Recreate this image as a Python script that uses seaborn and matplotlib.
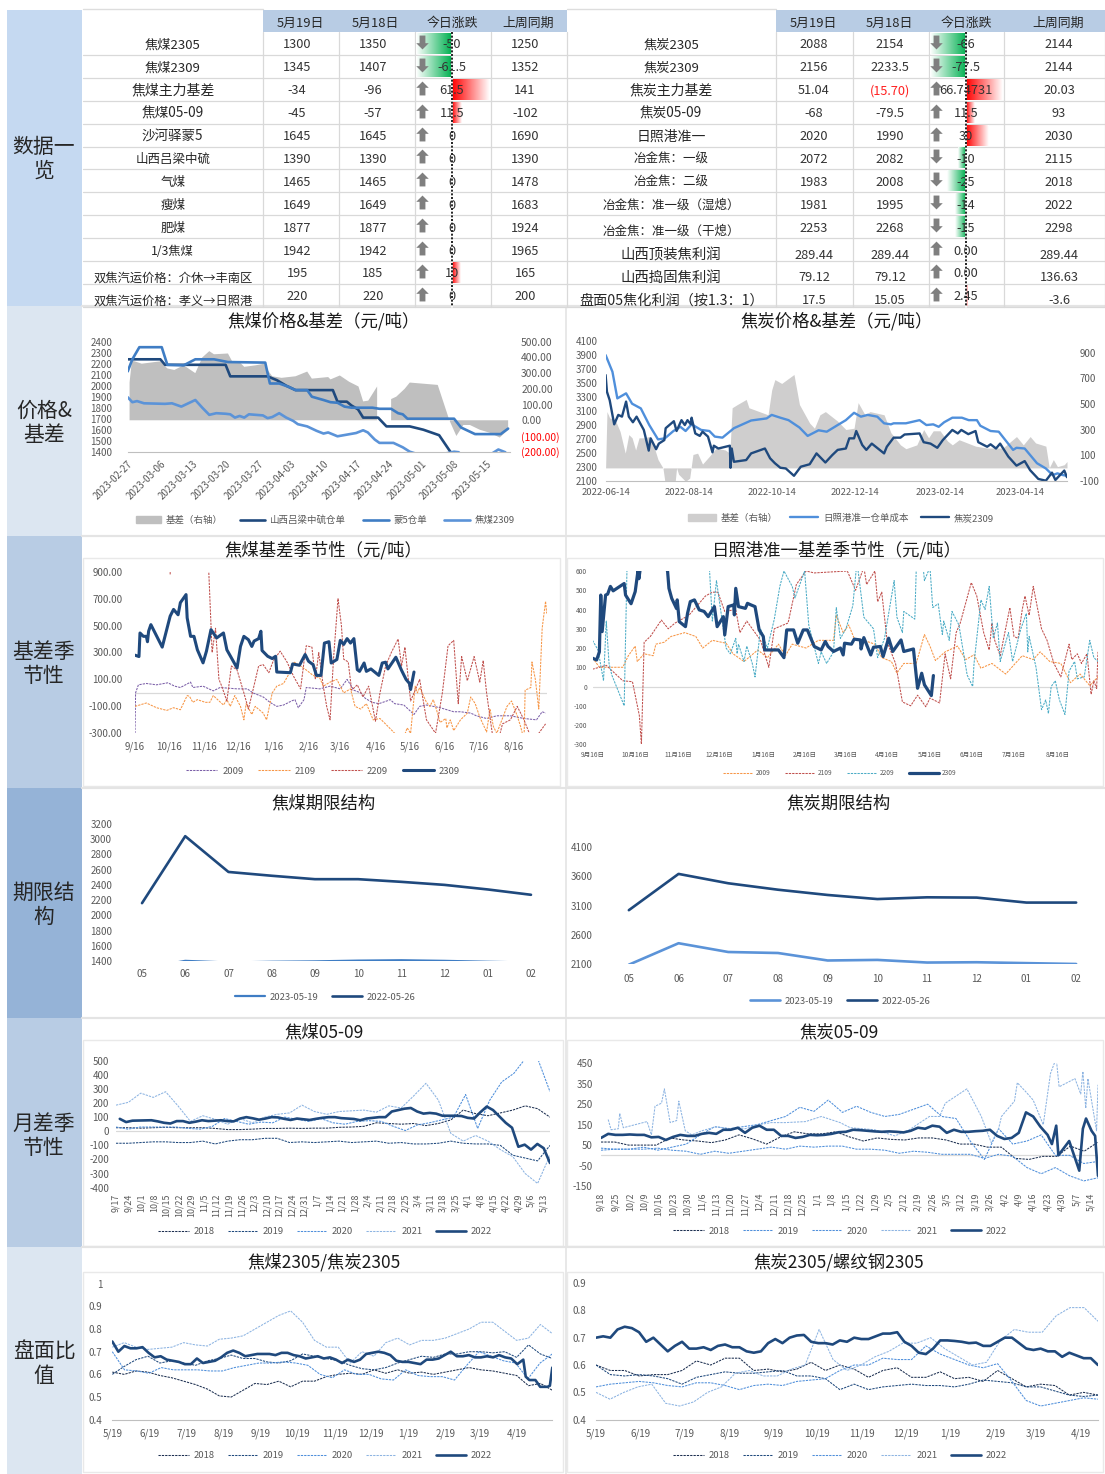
import numpy as np
import matplotlib
matplotlib.use("Agg")
import matplotlib.pyplot as plt
from matplotlib.colors import LinearSegmentedColormap
from matplotlib.patches import Rectangle, Patch
from matplotlib.path import Path
import seaborn as sns

sns.set_theme(style="white")
plt.rcParams['font.family'] = ['Noto Sans CJK SC', 'DejaVu Sans']
plt.rcParams['axes.unicode_minus'] = False

# ---------------- table data
HEAD_L = ['5月19日', '5月18日', '今日涨跌', '上周同期']
NAMES_L = ['焦煤2305', '焦煤2309', '焦煤主力基差', '焦煤05-09', '沙河驿蒙5', '山西吕梁中硫', '气煤', '瘦煤', '肥煤', '1/3焦煤',
           '双焦汽运价格：介休→丰南区', '双焦汽运价格：孝义→日照港']
D19_L = ['1300', '1345', '-34', '-45', '1645', '1390', '1465', '1649', '1877', '1942', '195', '220']
D18_L = ['1350', '1407', '-96', '-57', '1645', '1390', '1465', '1649', '1877', '1942', '185', '220']
CHG_L = [-50, -61.5, 61.5, 11.5, 0, 0, 0, 0, 0, 0, 10, 0]
CHGT_L = ['-50', '-61.5', '61.5', '11.5', '0', '0', '0', '0', '0', '0', '10', '0']
WK_L = ['1250', '1352', '141', '-102', '1690', '1390', '1478', '1683', '1924', '1965', '165', '200']

NAMES_R = ['焦炭2305', '焦炭2309', '焦炭主力基差', '焦炭05-09', '日照港准一', '冶金焦：一级', '冶金焦：二级', '冶金焦：准一级（湿熄）',
           '冶金焦：准一级（干熄）', '山西顶装焦利润', '山西捣固焦利润', '盘面05焦化利润（按1.3：1）']
D19_R = ['2088', '2156', '51.04', '-68', '2020', '2072', '1983', '1981', '2253', '289.44', '79.12', '17.5']
D18_R = ['2154', '2233.5', '(15.70)', '-79.5', '1990', '2082', '2008', '1995', '2268', '289.44', '79.12', '15.05']
CHG_R = [-66, -77.5, 66.74731, 11.5, 30, -10, -25, -14, -15, 0, 0, 2.45]
CHGT_R = ['-66', '-77.5', '66.74731', '11.5', '30', '-10', '-25', '-14', '-15', '0.00', '0.00', '2.45']
WK_R = ['2144', '2144', '20.03', '93', '2030', '2115', '2018', '2022', '2298', '289.44', '136.63', '-3.6']

BANDS = ['数据一\n览', '价格&\n基差', '基差季\n节性', '期限结\n构', '月差季\n节性', '盘面比\n值']

# ---------------- chart 1
C1_TICKS = ['2023-02-27', '2023-03-06', '2023-03-13', '2023-03-20', '2023-03-27', '2023-04-03', '2023-04-10', '2023-04-17',
            '2023-04-24', '2023-05-01', '2023-05-08', '2023-05-15']
C1_RIGHT = ['500.00', '400.00', '300.00', '200.00', '100.00', '0.00', '(100.00)', '(200.00)']
C1_LL_X = [0, 7, 8, 21, 22, 30, 32, 34, 36, 44, 45, 47, 48, 49.4, 50.5, 53.7, 55.5, 60.5, 63.4, 66.8, 69.2, 72, 81]
C1_LL_Y = [2240, 2240, 2190, 2190, 2085, 2085, 2050, 2000, 1960, 1960, 1855, 1855, 1820, 1785, 1710, 1710, 1630, 1630, 1600, 1550, 1400, 1330, 1300]
C1_M5_X = [0, 1, 2.5, 7.3, 8.5, 12, 14.5, 18.5, 21.5, 29.5, 30.5, 32.5, 34.5, 36, 38.5, 39.5, 42, 43.5, 45, 46.5, 48, 52.5, 54, 56.5, 58, 59, 60, 70, 71.5, 73, 74.5, 80, 81.6]
C1_M5_Y = [2130, 2240, 2350, 2350, 2190, 2185, 2240, 2240, 2215, 2210, 2020, 2020, 1990, 1960, 1960, 1900, 1870, 1850, 1845, 1810, 1800, 1800, 1790, 1790, 1750, 1740, 1700, 1700, 1620, 1590, 1560, 1560, 1610]
C1_JM_X = [0, 1, 2, 3.5, 8, 9.5, 11.5, 14.5, 16, 17.5, 19, 21, 22, 23, 24, 25, 26, 29, 30, 31, 32.5, 34, 35.5, 36.5, 38.5, 40.5, 42, 43, 45, 47, 49, 50.5, 51.5, 53, 54, 57, 59, 60.5, 62, 66, 69, 70, 71, 72, 75, 78, 79.5, 81]
C1_JM_Y = [1895, 1850, 1860, 1840, 1835, 1840, 1810, 1870, 1800, 1735, 1750, 1745, 1740, 1710, 1725, 1710, 1740, 1730, 1705, 1715, 1750, 1710, 1680, 1650, 1630, 1590, 1565, 1575, 1540, 1555, 1570, 1595, 1575, 1510, 1480, 1480, 1440, 1400, 1380, 1370, 1390, 1400, 1395, 1340, 1310, 1380, 1420, 1395]
C1_B_X = [0.4, 0.9, 1.5, 3, 7, 8.5, 10, 12, 14.5, 16, 17.5, 18.5, 21.5, 22.5, 24, 25, 27.5, 29.3, 30, 31, 33, 36, 38.5, 39.5, 43, 43.5, 45.5, 47.5, 49.5, 50.5, 51.6, 53.5, 55, 56.5, 57.6, 59.4, 60.5, 66.5, 69, 70.5, 72, 73.4, 75.5, 77.7, 79.8, 81.6]
C1_B_Y = [240, 380, 375, 360, 375, 330, 320, 350, 300, 400, 440, 420, 425, 370, 370, 340, 350, 360, 320, 280, 270, 280, 310, 265, 275, 260, 285, 245, 215, 120, 125, 215, np.nan, 135, 150, 200, 240, 225, 0, -100, -30, -30, -60, -80, -110, -60]

# ---------------- chart 2
C2_TICKS = ['2022-06-14', '2022-08-14', '2022-10-14', '2022-12-14', '2023-02-14', '2023-04-14']
C2_RZ_X = [0, 5, 8.6, 15, 19.4, 25.8, 32, 38.4, 43.4, 49.7, 54.8, 58.6, 63, 70, 76, 80, 85.6, 94, 106.6, 118, 121.7, 128, 134, 142, 148, 156, 162, 170, 176, 182, 187, 192, 199, 204, 209, 211, 220, 230, 235, 240, 244, 248, 254, 261, 266, 272, 274.5, 282, 288, 298.5, 301, 307, 310, 316, 322.5, 327.5, 331, 335, 338]
C2_RZ_Y = [3895, 3657, 3276, 3348, 3200, 3133, 2895, 2690, 2705, 2810, 2870, 2810, 2905, 2825, 2810, 2730, 2715, 2850, 2960, 2990, 3040, 3000, 2965, 2860, 2740, 2820, 2800, 2895, 2965, 3070, 3015, 3040, 3015, 2920, 2905, 2920, 2920, 2965, 2895, 2905, 2870, 2935, 3000, 3000, 2965, 2965, 2885, 2810, 2800, 2540, 2570, 2560, 2490, 2350, 2275, 2180, 2205, 2180, 2170]
C2_JT_X = [0, 1, 3, 6.3, 9.3, 12, 15, 17, 20, 22.7, 28, 31.6, 33, 37, 39, 43, 44, 50, 52, 55.6, 58, 60, 62.4, 63, 65.7, 69, 71, 75, 78.3, 79.3, 82.6, 91, 91.5, 92.4, 94, 103, 106.6, 116.7, 120.5, 124, 128, 132, 138, 143, 149.5, 154.5, 161, 166, 170, 176, 178.5, 182, 183.6, 188, 191, 195, 204, 206, 211, 216, 219, 230, 233, 238, 243, 247, 254, 258, 260.6, 265.7, 271, 273, 279.5, 282, 286, 289, 295, 301, 307, 311, 317, 322.5, 327, 329.5, 336, 338]
C2_JT_Y = [3610, 3370, 3250, 2905, 3040, 3015, 3230, 3015, 2935, 3015, 2825, 2530, 2705, 2550, 2630, 2680, 2850, 2950, 2810, 2965, 2895, 2965, 2905, 3000, 2775, 2740, 2800, 2730, 2505, 2600, 2560, 2600, 2285, 2560, 2370, 2395, 2490, 2560, 2420, 2350, 2285, 2275, 2170, 2300, 2335, 2490, 2360, 2465, 2540, 2560, 2705, 2705, 2810, 2610, 2540, 2630, 2490, 2585, 2715, 2715, 2760, 2775, 2650, 2630, 2570, 2680, 2825, 2775, 2825, 2765, 2810, 2650, 2585, 2620, 2560, 2630, 2445, 2315, 2380, 2250, 2125, 2100, 2215, 2110, 2245, 2150]
C2_B_X = [0, 1, 3, 6.8, 8, 10.6, 14.4, 17, 19.4, 22, 24.5, 28, 32, 34.6, 38.4, 42, 43.4, 51, 52, 53.5, 58.6, 61.6, 64, 67.4, 71, 76, 81, 87.6, 91, 92.7, 96.5, 103, 105, 119, 121.7, 124, 129, 138, 142, 149.5, 153, 157, 161, 170, 176, 182, 185, 190, 193.7, 204, 209, 216, 220, 228, 233, 236.6, 240, 245, 250.5, 254, 259, 271, 279.5, 291, 301, 306, 311, 315, 322.5, 325, 328, 331, 336, 338]
C2_B_Y = [0, 440, 390, 380, 350, 285, 115, 260, 235, 140, 235, 235, 245, 195, 65, 0, -105, -105, 0, -50, -105, -80, 105, 115, 30, 90, 155, 140, 115, 470, 495, 535, 470, 415, 610, 690, 660, 730, 495, 350, 310, 415, 440, 365, 300, 310, 510, 415, 440, 415, 275, 180, 150, 180, 300, 235, 290, 290, 210, 180, 220, 170, 155, 155, 245, 180, 245, 195, 170, 0, 65, 10, 25, 50]

# ---------------- chart 3
C3_TICKS = ['9/16', '10/16', '11/16', '12/16', '1/16', '2/16', '3/16', '4/16', '5/16', '6/16', '7/16', '8/16']
C3_09_X = [0, 0.5, 3, 10, 19, 29, 35, 40, 49, 51, 60, 69, 75, 90, 99, 104, 113, 119, 125, 131, 138, 141, 144, 149, 151, 163, 172, 181, 187, 193, 199, 203, 209, 215, 222, 225, 229, 237, 246, 251, 257, 269, 281, 287, 296, 301, 310, 319, 331, 343, 354, 359, 362]
C3_09_Y = [-300, 0, 60, 70, 60, 75, 50, 40, 80, 40, 50, 15, 40, 30, 30, 0, -30, -70, -100, -90, -60, -50, -110, -50, 40, 30, 50, 30, 100, 20, 0, -40, -70, -80, -60, -50, -80, -90, -160, -100, -90, -110, -140, -140, -150, -170, -190, -170, -170, -190, -200, -140, -150]
C3_21_X = [0, 10, 19, 28, 34, 40, 46, 48, 51, 55, 62, 66, 69, 78, 81, 84, 88, 93, 96, 98, 103, 106, 113, 116, 121, 125, 131, 135, 140, 146, 151, 157, 163, 166, 172, 178, 184, 190, 194, 199, 204, 210, 216, 222, 229, 234, 240, 243, 247, 249, 251, 257, 260, 263, 266, 269, 274, 275, 278, 281, 287, 293, 296, 300, 304, 310, 313, 316, 319, 328, 332, 337, 340, 343, 344, 349, 350, 353, 356, 359, 362, 363]
C3_21_Y = [-100, -75, -110, -130, -110, -125, -20, -25, -70, -50, -70, -70, -20, -90, -50, -100, -20, -100, -200, -80, -160, -100, -150, -200, 0, 50, 70, 130, 230, 200, 170, 130, 110, 50, 80, 100, 0, 30, -100, -120, -80, -200, -190, -240, -300, -400, -260, -300, 50, 0, 40, -70, -100, -50, -130, -220, -190, -260, -200, -280, -200, -150, -30, -80, -180, -290, -120, -250, -300, -100, -60, -170, -250, -350, 20, 40, 230, 100, -120, 480, 680, 590]
C3_22_X = [31, 32, 63, 65, 68, 71, 74, 76, 81, 85, 90, 96, 100, 104, 109, 113, 118, 122, 128, 134, 140, 146, 149, 151, 156, 159, 162, 166, 169, 172, 175, 179, 182, 184, 188, 191, 196, 201, 206, 212, 216, 221, 226, 232, 235, 238, 243, 246, 251, 257, 265, 271, 276, 281, 285, 288, 293, 299, 304, 307, 310, 315, 319, 324, 331, 337, 343, 350, 356, 362]
C3_22_Y = [880, 1300, 1300, 910, 300, 480, 100, 60, -60, 200, 170, 0, -120, 20, 200, 210, 150, 240, 310, 230, 120, 30, 230, 350, 340, 100, 300, 50, -100, -200, 250, 700, 500, 250, 230, 20, 60, -30, 50, -210, 0, 200, 300, 400, 200, 340, -60, 0, 100, -200, -300, 0, 350, 390, -80, 270, 90, 270, 80, 240, 0, -300, -400, -230, -200, -100, -200, -350, -300, -230]
C3_23_X = [0, 3.5, 4.4, 7.4, 10, 11, 12, 14, 24, 31, 34, 38, 40, 45, 46, 49, 52, 55, 60, 63, 67, 72, 78, 81, 90, 93, 96, 100, 103, 105, 109, 111, 112, 117, 121, 124, 125, 137, 139, 145, 150, 153, 157, 160, 164, 167, 171, 173, 178, 181, 184, 187, 190, 193, 196, 198, 202, 204, 208, 215, 218, 221, 223, 230, 235, 239, 242, 243, 246]
C3_23_Y = [280, 270, 445, 420, 420, 380, 458, 507, 340, 570, 620, 580, 670, 730, 557, 420, 420, 320, 223, 310, 470, 408, 445, 320, 185, 345, 420, 395, 345, 385, 403, 458, 315, 272, 255, 272, 155, 150, 215, 205, 285, 235, 210, 130, 130, 370, 380, 222, 248, 390, 360, 403, 370, 403, 173, 160, 222, 160, 178, 130, 222, 228, 178, 265, 168, 100, 70, 25, 155]

# ---------------- chart 4
C4_TICKS = ['9月16日', '10月16日', '11月16日', '12月16日', '1月16日', '2月16日', '3月16日', '4月16日', '5月16日', '6月16日', '7月16日', '8月16日']
C4_09_X = [0, 5, 12, 22, 26, 31, 32.5, 37.5, 44, 46, 52, 57, 67, 75, 80, 87, 97, 102, 110, 120, 127, 135, 140, 145, 155, 164, 175, 177, 182, 186, 190, 197, 205, 210, 217, 221, 226, 235, 241, 245, 249, 256, 265, 271, 277, 282, 290, 300, 312, 320, 325, 332, 340, 347, 354, 361, 367]
C4_09_Y = [150, 100, 100, 100, 160, 210, 130, 170, 160, 220, 230, 260, 280, 260, 200, 240, 225, 170, 130, 190, 150, 220, 160, 220, 200, 240, 240, 370, 280, 320, 250, 240, 220, 150, 130, 70, 120, 120, 270, 210, 135, 180, 210, 140, 165, 95, 120, 65, 160, 140, 180, 130, 120, 20, 65, 5, 50]
C4_21_X = [0, 10, 22, 29, 34, 35.5, 37.5, 42, 50, 55, 60, 70, 82, 87, 91, 96, 104, 107, 112, 122, 128, 132, 142, 148, 155, 161, 185, 191, 197, 199, 205, 207, 210, 214, 220, 225, 231, 236, 242, 245, 252, 256, 260, 264, 267, 275, 279, 284, 288, 290, 292, 296, 303, 306, 309, 312, 314, 317, 320, 326, 330, 335, 340, 346, 348, 352, 355, 359, 362, 364, 366, 367]
C4_21_Y = [90, 110, 30, 25, -150, -300, 230, 260, 345, 300, 330, 370, 470, 490, 490, 390, 400, 280, 340, 240, 100, 300, 330, 530, 600, 590, 600, 500, 620, 530, 600, 440, 490, 230, 120, -80, -100, -45, -105, -60, -85, 170, 40, 280, 330, 540, 470, 280, 190, 330, 240, 160, 410, 260, 250, 400, 470, 370, 520, 300, 240, 120, 50, 220, 140, 170, 120, 170, -40, 30, -10, 180]
C4_22_X = [0, 4, 8, 10, 12, 14, 23, 25, 26, 84, 85, 87, 90, 97, 100, 104, 105, 106, 110, 112, 116, 118, 122, 127, 132, 136, 139, 145, 147, 154, 157, 164, 166, 170, 175, 177, 180, 184, 189, 192, 197, 204, 207, 212, 219, 221, 225, 226, 234, 235, 239, 241, 245, 247, 251, 254, 255, 259, 261, 266, 272, 276, 277, 282, 285, 288, 291, 294, 296, 302, 305, 311, 315, 316, 317, 322, 326, 329, 331, 333, 336, 339, 343, 346, 350, 352, 357, 361, 364, 367]
C4_22_Y = [240, 190, 30, 340, 120, 60, -100, 600, 800, 800, 600, 340, 550, 200, 170, 250, 170, 220, 130, 210, 120, 50, 300, 200, 350, 520, 600, 520, 460, 600, 320, 120, 180, 120, 180, 410, 250, 300, 420, 650, 360, 300, 150, 250, 550, 360, 280, 390, 350, 600, 700, 550, 620, 410, 430, 270, 340, 240, 390, 320, 60, 0, 120, 450, 400, 520, 250, 330, 130, 280, 130, 300, 380, 180, 260, 100, -120, -70, -140, 0, 30, -70, -145, 80, 130, 40, 50, 240, 150, 130]
C4_23_X = [0, 3, 5, 6, 7, 9.5, 11, 13, 15, 23, 24, 28, 31, 33, 33.7, 35, 44, 54.5, 55.5, 57.5, 61, 61.5, 63, 67.5, 69, 71, 74, 77.5, 81, 84, 88.5, 90.5, 95, 96, 98.5, 102.5, 103, 104, 106, 111, 112.5, 115, 118, 121, 124, 125, 135, 139, 141, 146, 149, 153, 156, 161, 166, 169, 171, 175, 180, 182, 183, 188, 190, 194.5, 195, 197, 202, 204, 209, 211, 215, 218, 224, 226, 233, 236, 239, 241, 246, 247.5]
C4_23_Y = [147, 138, 180, 475, 285, 475, 480, 520, 497, 535, 475, 430, 493, 600, 560, 630, 720, 600, 510, 458, 405, 450, 337, 311, 380, 441, 450, 398, 390, 363, 415, 311, 363, 268, 415, 424, 372, 510, 415, 406, 432, 424, 415, 294, 260, 190, 190, 150, 294, 294, 225, 294, 294, 208, 190, 234, 208, 182, 200, 164, 225, 220, 246, 242, 195, 254, 164, 204, 208, 156, 251, 182, 242, 182, 195, -9, 69, 9, -47, 57]

# ---------------- term structures
TERM_CATS = ['05', '06', '07', '08', '09', '10', '11', '12', '01', '02']
T1_NOW = [1300, 1402, 1380, 1390, 1395, 1405, 1410, 1402, 1390, 1380]
T1_OLD = [2160, 3040, 2570, 2520, 2475, 2475, 2440, 2400, 2340, 2270]
T2_NOW = [2088, 2455, 2305, 2288, 2160, 2170, 2125, 2130, 2115, 2100]
T2_OLD = [3020, 3640, 3480, 3370, 3280, 3210, 3240, 3235, 3150, 3150]

# ---------------- spreads
S1_TICKS = ['9/17', '9/24', '10/1', '10/8', '10/15', '10/22', '10/29', '11/5', '11/12', '11/19', '11/26', '12/3', '12/10', '12/17', '12/24', '12/31', '1/7', '1/14', '1/21', '1/28', '2/4', '2/11', '2/18', '2/25', '3/4', '3/11', '3/18', '3/25', '4/1', '4/8', '4/15', '4/22', '4/29', '5/6', '5/13']
S1_18 = [25, 25, 22, 25, 28, 25, 25, 25, 20, 12, 12, 15, 20, 20, 22, 20, 22, 22, 28, 30, 35, 60, 55, 50, 55, 40, 55, 80, 150, 125, 110, 130, 150, 180, 160, 100]
S1_19 = [-85, -85, -80, -75, -75, -80, -80, -70, -90, -70, -60, -60, -50, -50, -80, -75, -80, -75, -70, -80, -75, -70, -85, -80, -90, -90, -85, -70, -85, -90, -90, -100, -170, -190, -210, -100]
S1_20 = [30, 15, 30, 30, 30, 30, 20, 15, 35, 90, 70, 50, 65, 60, 100, 85, 70, 90, 60, 50, 70, 75, 70, 35, 5, 45, 60, 80, 100, 260, 20, 220, 350, 410, 520, 510, 280]
S1_21 = [185, 205, 270, 240, 280, 180, 70, 110, 85, 50, 90, 60, 100, 120, 130, 185, 140, 120, 140, 145, 150, 135, 180, 165, 250, 340, 220, -15, -70, -30, -70, -130, -180, -300, -370, -170]
S1_22 = [88, 65, 75, 76, 77, 78, 70, 60, 55, 72, 72, 60, 68, 78, 72, 75, 78, 72, 70, 90, 100, 92, 82, 90, 100, 98, 88, 80, 90, 85, 80, 88, 95, 100, 100, 93, 90, 87, 78, 90, 95, 100, 100, 140, 150, 160, 165, 140, 125, 130, 125, 110, 110, 110, 108, 95, 90, 135, 175, 150, 105, 60, 25, -110, -95, -130, -90, -120, -225]

S2_TICKS = ['9/18', '9/25', '10/2', '10/9', '10/16', '10/23', '10/30', '11/6', '11/13', '11/20', '11/27', '12/4', '12/11', '12/18', '12/25', '1/1', '1/8', '1/15', '1/22', '1/29', '2/5', '2/12', '2/19', '2/26', '3/5', '3/12', '3/19', '3/26', '4/2', '4/9', '4/16', '4/23', '4/30', '5/7', '5/14']
S2_18 = [65, 65, 50, 50, 50, 85, 75, 70, 62, 75, 100, 80, 55, 90, 115, 105, 105, 115, 90, 70, 85, 78, 75, 85, 85, 75, 55, 55, 40, 40, -15, -20, -5, -5, 45, 20, 65]
S2_19 = [25, 30, 30, 30, 35, 25, 20, 5, 20, 10, 20, 30, 40, 30, 45, 40, 45, 45, 30, 30, 25, 10, 20, 15, 5, 5, 5, -15, 5, -5, -60, -90, -60, -100, -125, -110]
S2_20 = [35, 30, 30, 40, 25, 40, 55, 100, 140, 130, 140, 150, 170, 190, 235, 215, 270, 210, 240, 210, 190, 200, 225, 250, 190, 180, 70, -20, 130, 55, 70, 100, 0, 0, -40, -30]
S2_21_X = [0.5, 0.7, 1.2, 1.3, 1.55, 3.2, 3.5, 3.75, 4.2, 4.4, 4.8, 5.25, 5.4, 5.85, 6.3, 7, 8, 9, 10, 11, 11.8, 12.8, 14.2, 15.3, 16.6, 17.3, 19, 20.4, 21.4, 22.8, 23.5, 23.9, 25.4, 26.4, 27.1, 27.6, 27.8, 28.7, 28.9, 29.5, 30, 30.7, 31.2, 31.6, 31.8, 32.9, 33.3, 33.45, 33.65, 33.8, 34.4, 34.5]
S2_21_Y = [175, 125, 130, 205, 135, 165, 100, 240, 255, 325, 160, 170, 265, 120, 100, 120, 140, 130, 130, 150, 160, 160, 165, 190, 160, 135, 125, 95, 125, 190, 190, 255, 325, 190, 60, 130, 190, 265, 355, 310, 270, 150, 400, 475, 335, 375, 300, 410, 230, 375, 120, 345]
S2_22_Y = [85, 105, 100, 100, 102, 100, 100, 88, 90, 75, 90, 100, 95, 95, 105, 110, 105, 125, 125, 135, 110, 135, 145, 125, 125, 95, 95, 85, 90, 100, 98, 100, 105, 113, 115, 125, 123, 120, 117, 115, 117, 115, 112, 120, 135, 130, 145, 140, 110, 125, 115, 115, 118, 120, 125, 95, 80, 85, 110, 210, 190, 140, 100]
S2_22T_X = [31.3, 31.6, 31.75, 32.5, 33.2, 33.45, 33.67, 34.05, 34.3, 34.5]
S2_22T_Y = [55, 145, 0, 70, -75, 130, 180, 120, 95, -100]

# ---------------- ratios
R_TICKS = ['5/19', '6/19', '7/19', '8/19', '9/19', '10/19', '11/19', '12/19', '1/19', '2/19', '3/19', '4/19']
R1_18 = [.61, .60, .615, .61, .595, .585, .57, .555, .535, .505, .50, .53, .56, .555, .57, .545, .57, .57, .59, .60, .605, .60, .62, .605, .62, .605, .61, .60, .61, .62, .63, .62, .615, .605, .595, .55, .56, .53]
R1_19 = [.60, .635, .665, .68, .65, .66, .65, .64, .66, .67, .685, .67, .67, .655, .65, .66, .69, .68, .67, .66, .64, .625, .62, .63, .65, .665, .68, .675, .69, .69, .70, .70, .695, .70, .675, .73, .69, .67]
R1_20 = [.70, .62, .615, .605, .63, .62, .62, .62, .615, .615, .63, .64, .65, .65, .655, .65, .64, .60, .585, .62, .60, .60, .58, .575, .62, .595, .59, .59, .575, .64, .70, .68, .66, .65, .58, .65, .69]
R1_21 = [.72, .74, .72, .71, .715, .72, .74, .73, .725, .755, .76, .77, .80, .83, .86, .88, .83, .75, .72, .72, .65, .70, .68, .74, .76, .73, .75, .75, .76, .78, .80, .83, .83, .79, .75, .76, .82, .78]
R1_22 = [.745, .70, .725, .715, .715, .72, .695, .675, .68, .665, .66, .655, .645, .645, .67, .65, .655, .66, .675, .695, .705, .695, .68, .685, .69, .69, .69, .685, .695, .695, .685, .68, .67, .675, .68, .67, .675, .665, .65, .665, .655, .665, .69, .695, .70, .695, .685, .66, .655, .655, .65, .645, .665, .665, .67, .685, .70, .68, .68, .685, .675, .675, .68, .675, .685, .675, .67, .645, .665]
R1_22T_X = [342, 345, 350, 354, 360, 362, 364]
R1_22T_Y = [.59, .575, .575, .545, .545, .55, .63]

R2_18 = [.60, .58, .58, .56, .565, .565, .58, .615, .60, .625, .625, .58, .585, .575, .585, .61, .58, .60, .585, .555, .58, .59, .555, .555, .575, .55, .555, .54, .58, .55, .52, .53, .525, .49, .50, .49]
R2_19 = [.60, .565, .56, .565, .56, .55, .53, .555, .565, .575, .57, .57, .575, .58, .56, .56, .55, .51, .53, .51, .52, .525, .53, .525, .525, .52, .53, .545, .54, .535, .52, .52, .505, .49, .485, .49]
R2_20 = [.52, .53, .535, .54, .535, .525, .52, .535, .535, .525, .51, .525, .53, .525, .54, .545, .55, .58, .60, .60, .625, .62, .62, .67, .64, .62, .60, .59, .605, .54, .47, .45, .46, .47, .48, .475]
R2_21 = [.50, .475, .50, .52, .53, .46, .45, .465, .50, .52, .57, .58, .56, .56, .585, .60, .73, .62, .58, .60, .63, .65, .68, .68, .70, .66, .63, .60, .61, .69, .73, .72, .72, .78, .81, .81, .76]
R2_22 = [.70, .705, .70, .73, .74, .735, .72, .685, .70, .675, .65, .67, .685, .66, .66, .665, .655, .67, .675, .665, .665, .65, .645, .65, .68, .695, .68, .70, .708, .71, .685, .68, .68, .675, .69, .685, .70, .695, .695, .705, .715, .715, .72, .685, .67, .645, .64, .66, .69, .69, .688, .685, .68, .682, .67, .67, .685, .70, .70, .68, .66, .655, .66, .65, .65, .63, .645, .635, .625, .625, .60]

YEARS5 = ['2018', '2019', '2020', '2021', '2022']
YEARS4 = ['2009', '2109', '2209', '2309']

# ---------------- drawing helpers
W, H = 1105, 1474
fig = plt.figure(figsize=(W / 100, H / 100), dpi=100, facecolor='white')
GRAY = '#595959'
GRID = '#D9D9D9'
DARK = '#1F497D'
DASH = (0, (2.2, 1))
TICK_FS = 7.0


def px_axes(l, t, r, b):
    ax = fig.add_axes([l / W, 1 - b / H, (r - l) / W, (b - t) / H])
    ax.patch.set_alpha(0)
    for s in ax.spines.values():
        s.set_visible(False)
    ax.tick_params(axis='both', length=0, colors=GRAY, labelsize=TICK_FS, pad=2)
    return ax


def draw(ax, x, y, color, lw, label=None, ls='-'):
    sns.lineplot(x=np.asarray(x, float), y=np.asarray(y, float), ax=ax, color=color, linewidth=lw,
                 linestyle=ls, label=label, estimator=None, sort=False, legend=False, errorbar=None)


def legend(ax, cx, cy, fs=6.8, handles=None, hl=3.2, cs=1.4):
    if handles is None:
        handles = [l for l in ax.get_lines() if not l.get_label().startswith('_')]
    ax.legend(handles=handles, loc='center', bbox_to_anchor=(cx / W, 1 - cy / H), bbox_transform=fig.transFigure,
              ncol=len(handles), frameon=False, fontsize=fs, labelcolor=GRAY, handlelength=hl, columnspacing=cs,
              handletextpad=0.5, borderpad=0, borderaxespad=0)


def bottom_axis(ax, col='#BFBFBF'):
    ax.spines['bottom'].set_visible(True)
    ax.spines['bottom'].set_color(col)
    ax.spines['bottom'].set_linewidth(0.8)
    ax.tick_params(axis='x', length=3, color=col)


# ---------------- overlay: bands, frames, tables, titles
ov = fig.add_axes([0, 0, 1, 1])
ov.set_xlim(0, W)
ov.set_ylim(H, 0)
ov.axis('off')

band_edges = [10, 306, 536, 788, 1018, 1247, 1474]
band_cols = ['#C5D9F1', '#DCE6F1', '#B8CCE4', '#95B3D7', '#B8CCE4', '#DCE6F1']
band_cy = [159, 423, 664, 905, 1136, 1364]
for i, b in enumerate(BANDS):
    ov.add_patch(Rectangle((7, band_edges[i]), 75, band_edges[i + 1] - band_edges[i], color=band_cols[i], lw=0))
    ov.text(44, band_cy[i], b, ha='center', va='center', fontsize=15, color='#262626', linespacing=1.12)

for y in band_edges[1:-1]:
    ov.plot([82, 1105], [y, y], color='#E4E4E4', lw=1.6)
ov.plot([566, 566], [306, 1474], color='#E4E4E4', lw=1.2)
frames = [(83, 558, 560, 786), (83, 1040, 563, 1246), (83, 1272, 563, 1472), (567, 1040, 1103, 1246), (567, 1272, 1103, 1472),
          (567, 558, 1103, 786)]
for l, t, r, b in frames:
    ov.add_patch(Rectangle((l, t), r - l, b - t, fill=False, ec='#E9E9E9', lw=1))

row_top = 32
row_h = 22.9
greens = LinearSegmentedColormap.from_list('g', ['#FFFFFF', '#00B050'])
reds = LinearSegmentedColormap.from_list('r', ['#FF0000', '#FFFFFF'])
up = Path([(0, 1), (.9, .1), (.42, .1), (.42, -1), (-.42, -1), (-.42, .1), (-.9, .1), (0, 1)])
down = Path([(0, -1), (.9, -.1), (.42, -.1), (.42, 1), (-.42, 1), (-.42, -.1), (-.9, -.1), (0, -1)])
TXT_DY = 1.5


def table(x_edges, heads_x, cols_x, names, d19, d18, chg, chgt, wk, name_fs, name_dy, val_dy, bar_scale):
    xn0, x1, x2, x3, x4, x5 = x_edges
    ov.add_patch(Rectangle((x1, 10), x5 - x1, row_top - 10, color='#B8CCE4', lw=0))
    ov.plot([xn0, x1], [9, 9], color='#DDDDDD', lw=1)
    for hx, h in zip(heads_x, HEAD_L):
        ov.text(hx, 21.5 + TXT_DY, h, ha='center', va='center', fontsize=9.3, color='#262626')
    n = len(names)
    for i in range(n + 1):
        y = row_top + i * row_h
        if i > 0:
            ov.plot([xn0, x5], [y, y], color=GRID, lw=0.9)
    for x in (x1, x2, x3, x4, x5):
        ov.plot([x, x], [row_top, row_top + n * row_h], color=GRID, lw=0.9)
    mid = cols_x[2]
    for i in range(n):
        yt = row_top + i * row_h
        yc = yt + row_h / 2 + TXT_DY
        v = chg[i]
        w = abs(v) * bar_scale
        if v > 0:
            ov.imshow(np.linspace(0, 1, 64)[None, :], extent=(mid, min(mid + w, x4 - 1), yt + row_h - 1, yt + 1),
                      cmap=reds, aspect='auto', zorder=2)
        elif v < 0:
            ov.imshow(np.linspace(0, 1, 64)[None, :], extent=(max(mid - w, x3 + 1), mid, yt + row_h - 1, yt + 1),
                      cmap=greens, aspect='auto', zorder=2)
        ov.scatter([x3 + 7], [yc - 3], marker=up if v >= 0 else down, s=100, color='#7F7F7F', linewidths=0, zorder=4)
        ov.text((xn0 + x1) / 2, yc + name_dy[i], names[i], ha='center', va='center', fontsize=name_fs[i], color='#262626', zorder=5)
        ov.text(cols_x[0], yc + val_dy[i], d19[i], ha='center', va='center', fontsize=9.2, color='#333333', zorder=5)
        ov.text(cols_x[1], yc + val_dy[i], d18[i], ha='center', va='center', fontsize=9.2,
                color='#FF2020' if d18[i].startswith('(') else '#333333', zorder=5)
        ov.text(cols_x[2], yc, chgt[i], ha='center', va='center', fontsize=9.2, color='#333333', zorder=5)
        ov.text(cols_x[3], yc + val_dy[i], wk[i], ha='center', va='center', fontsize=9.2, color='#333333', zorder=5)
    ov.plot([mid, mid], [row_top, row_top + n * row_h], color='white', lw=1.2, zorder=6)
    ov.plot([mid, mid], [row_top, row_top + n * row_h], color='black', lw=1.2, ls=(0, (1.2, 1.0)), zorder=6)


table((83, 262.5, 339, 415, 491, 566.5), (300, 375.6, 452.7, 528), (297, 372.7, 452, 525), NAMES_L, D19_L, D18_L, CHG_L, CHGT_L, WK_L,
      [9.5, 9.5, 10, 9.8, 9.7, 9, 9, 9, 9, 8.8, 8.85, 8.85],
      [0, 0, 0, 0, 0, 0, 0, 0, 0, 0, 4, 4], [0] * 12, 0.85)
table((567, 775.5, 852.7, 928.8, 1004, 1105), (813, 889, 966, 1058), (814, 890, 966, 1059), NAMES_R, D19_R, D18_R, CHG_R, CHGT_R, WK_R,
      [9.5, 9.5, 10, 9.8, 10, 9, 9, 9, 9, 10.4, 10.4, 10.2],
      [0, 0, 0, 0, 0, 0, 0, 0, 3, 4, 4, 4], [0, 0, 0, 0, 0, 0, 0, 0, 0, 4, 4, 4], 0.76)

titles = [(324, 321, '焦煤价格&基差（元/吨）'), (837, 321, '焦炭价格&基差（元/吨）'), (323, 550, '焦煤基差季节性（元/吨）'),
          (837, 550, '日照港准一基差季节性（元/吨）'), (324, 803, '焦煤期限结构'), (839, 803, '焦炭期限结构'), (324, 1032, '焦煤05-09'),
          (839, 1032, '焦炭05-09'), (324, 1262, '焦煤2305/焦炭2305'), (839, 1262, '焦炭2305/螺纹钢2305')]
for x, y, t in titles:
    ov.text(x, y, t, ha='center', va='center', fontsize=12.5, color='#1A1A1A')

# ---------------- chart 1
ax = px_axes(127.7, 341.7, 510, 451.7)
ax2 = ax.twinx()
ax2.patch.set_alpha(0)
for s in ax2.spines.values():
    s.set_visible(False)
bx = np.array(C1_B_X)
by = np.array(C1_B_Y, float)
ax2.fill_between(bx, by, 0, where=~np.isnan(by), color='#BFBFBF', lw=0)
ax2.set_ylim(-200, 500)
ax2.set_yticks([500, 400, 300, 200, 100, 0, -100, -200])
ax2.set_yticklabels(C1_RIGHT)
ax2.tick_params(axis='y', length=0, labelsize=7.4, pad=8, colors=GRAY)
for tl, t in zip(ax2.get_yticklabels(), C1_RIGHT):
    tl.set_color('#FF0000' if t.startswith('(') else GRAY)
ax.set_zorder(ax2.get_zorder() + 1)
draw(ax, C1_LL_X, C1_LL_Y, DARK, 1.9, '山西吕梁中硫仓单')
draw(ax, C1_M5_X, C1_M5_Y, '#3F7DC4', 1.9, '蒙5仓单')
draw(ax, C1_JM_X, C1_JM_Y, '#5B93D8', 1.9, '焦煤2309')
ax.set_xlim(0, 82)
ax.set_ylim(1400, 2400)
ax.set_yticks(range(1400, 2401, 100))
ax.set_xticks(range(0, 78, 7))
ax.set_xticklabels(C1_TICKS, rotation=45, ha='right', rotation_mode='anchor')
bottom_axis(ax)
ax.tick_params(axis='y', pad=11)
hl = [Patch(color='#BFBFBF', label='基差（右轴）')] + list(ax.get_lines())
legend(ax, 325, 520, handles=hl, hl=2.7, cs=1.8)

# ---------------- chart 2
ax = px_axes(605.6, 340.7, 1067, 480.7)
ax2 = ax.twinx()
ax2.patch.set_alpha(0)
for s in ax2.spines.values():
    s.set_visible(False)
ax2.fill_between(C2_B_X, C2_B_Y, 0, color='#CFCECE', lw=0)
ax2.set_ylim(-100, 994)
ax2.set_yticks([-100, 100, 300, 500, 700, 900])
ax2.tick_params(axis='y', length=0, labelsize=TICK_FS, pad=9, colors=GRAY)
ax.set_zorder(ax2.get_zorder() + 1)
draw(ax, C2_RZ_X, C2_RZ_Y, '#4F8FDB', 1.7, '日照港准一仓单成本')
draw(ax, C2_JT_X, C2_JT_Y, DARK, 1.7, '焦炭2309')
ax.set_xlim(0, 338)
ax.set_ylim(2100, 4100)
ax.set_yticks(range(2100, 4101, 200))
ax.set_xticks([0, 61, 122, 183, 245, 304])
ax.set_xticklabels(C2_TICKS, fontsize=6.8)
bottom_axis(ax)
ax.tick_params(axis='y', pad=6)
hl = [Patch(color='#CFCECE', label='基差（右轴）')] + list(ax.get_lines())
legend(ax, 841, 518, handles=hl, hl=3.0, cs=1.3)


def zero_line(ax, col='#D9D9D9'):
    ax.axhline(0, color=col, lw=0.9, zorder=0)


# ---------------- chart 3
ax = px_axes(135, 571.7, 546.7, 733.3)
zero_line(ax)
draw(ax, C3_09_X, C3_09_Y, '#7B5FA8', 0.75, YEARS4[0], DASH)
draw(ax, C3_21_X, C3_21_Y, '#F79646', 0.75, YEARS4[1], DASH)
draw(ax, C3_22_X, C3_22_Y, '#C0504D', 0.75, YEARS4[2], DASH)
draw(ax, C3_23_X, C3_23_Y, DARK, 2.2, YEARS4[3])
ax.set_xlim(0, 363)
ax.set_ylim(-300, 900)
ax.set_yticks(range(-300, 901, 200))
ax.set_yticklabels([f'{v:.2f}' for v in range(-300, 901, 200)])
ax.set_xticks([0, 30, 61, 91, 122, 153, 181, 212, 242, 273, 303, 334])
ax.set_xticklabels(C3_TICKS)
ax.tick_params(axis='x', pad=6)
ax.tick_params(axis='y', pad=9)
legend(ax, 323, 771, hl=3.3, cs=1.6)

# ---------------- chart 4
ax = px_axes(592.5, 571, 1098, 744.3)
zero_line(ax)
draw(ax, C4_09_X, C4_09_Y, '#F79646', 0.75, YEARS4[0], DASH)
draw(ax, C4_21_X, C4_21_Y, '#C0504D', 0.75, YEARS4[1], DASH)
draw(ax, C4_22_X, C4_22_Y, '#4BACC6', 0.75, YEARS4[2], DASH)
draw(ax, C4_23_X, C4_23_Y, DARK, 2.3, YEARS4[3])
ax.set_xlim(0, 367)
ax.set_ylim(-300, 600)
ax.set_yticks(range(-300, 601, 100))
ax.set_xticks([0, 31, 62, 92, 124, 154, 184, 214, 245, 275, 306, 338])
ax.set_xticklabels(C4_TICKS, fontsize=4.8)
ax.tick_params(axis='y', labelsize=4.8, pad=4)
ax.tick_params(axis='x', pad=5)
legend(ax, 840, 773, fs=4.8, hl=4.4, cs=2.2)

# ---------------- term structures
ax = px_axes(120.4, 824, 552.6, 961)
draw(ax, range(10), T1_NOW, '#3F7DC4', 1.6, '2023-05-19')
draw(ax, range(10), T1_OLD, DARK, 1.9, '2022-05-26')
ax.set_xlim(-.5, 9.5)
ax.set_ylim(1400, 3200)
ax.set_yticks(range(1400, 3201, 200))
ax.set_xticks(range(10))
ax.set_xticklabels(TERM_CATS)
ax.tick_params(axis='x', pad=6)
ax.tick_params(axis='y', pad=6)
legend(ax, 325, 997)

ax = px_axes(604, 847, 1101, 964)
draw(ax, range(10), T2_NOW, '#5B93D8', 1.9, '2023-05-19')
draw(ax, range(10), T2_OLD, DARK, 1.9, '2022-05-26')
ax.set_xlim(-.5, 9.5)
ax.set_ylim(2100, 4100)
ax.set_yticks(range(2100, 4101, 500))
ax.set_xticks(range(10))
ax.set_xticklabels(TERM_CATS)
ax.tick_params(axis='x', pad=7)
ax.tick_params(axis='y', pad=8)
legend(ax, 840, 1001)

DK1, DK2, BL1, BL2 = '#1C2F50', '#1F497D', '#4F8FDB', '#8DB4E2'

# ---------------- spread 1
ax = px_axes(116, 1060.7, 550, 1187.7)
zero_line(ax)
end = 34.5
draw(ax, np.linspace(0, end, len(S1_18)), S1_18, DK1, 0.75, YEARS5[0], DASH)
draw(ax, np.linspace(0, end, len(S1_19)), S1_19, DK2, 0.75, YEARS5[1], DASH)
draw(ax, np.linspace(0, end, len(S1_20)), S1_20, BL1, 0.75, YEARS5[2], DASH)
draw(ax, np.linspace(0, end, len(S1_21)), S1_21, BL2, 0.75, YEARS5[3], DASH)
draw(ax, np.linspace(0.3, end, len(S1_22)), S1_22, DARK, 1.9, YEARS5[4])
ax.set_xlim(0, end)
ax.set_ylim(-400, 500)
ax.set_yticks(range(-400, 501, 100))
ax.set_xticks(range(35))
ax.set_xticklabels(S1_TICKS, rotation=90, fontsize=6.4)
ax.tick_params(axis='x', pad=4)
ax.tick_params(axis='y', pad=5)
legend(ax, 325, 1232)

# ---------------- spread 2
ax = px_axes(601, 1063.3, 1098, 1186)
zero_line(ax)
draw(ax, np.linspace(0, end, len(S2_18)), S2_18, DK1, 0.75, YEARS5[0], DASH)
draw(ax, np.linspace(0, end, len(S2_19)), S2_19, BL1, 0.75, YEARS5[1], DASH)
draw(ax, np.linspace(0, end, len(S2_20)), S2_20, BL1, 0.75, YEARS5[2], DASH)
draw(ax, S2_21_X, S2_21_Y, BL2, 0.75, YEARS5[3], DASH)
draw(ax, np.r_[np.arange(len(S2_22_Y)) * 0.5, S2_22T_X], np.r_[S2_22_Y, S2_22T_Y], DARK, 1.9, YEARS5[4])
ax.set_xlim(0, end)
ax.set_ylim(-150, 450)
ax.set_yticks(range(-150, 451, 100))
ax.set_xticks(range(35))
ax.set_xticklabels(S2_TICKS, rotation=90, fontsize=6.4)
ax.tick_params(axis='x', pad=5)
ax.tick_params(axis='y', pad=6)
legend(ax, 840, 1231)

# ---------------- ratio 1
ax = px_axes(112.3, 1283.7, 552.3, 1419.7)
end = 364
draw(ax, np.linspace(0, end, len(R1_18)), R1_18, DK1, 0.75, YEARS5[0], DASH)
draw(ax, np.linspace(0, end, len(R1_19)), R1_19, DK2, 0.75, YEARS5[1], DASH)
draw(ax, np.linspace(0, end, len(R1_20)), R1_20, BL1, 0.75, YEARS5[2], DASH)
draw(ax, np.linspace(0, end, len(R1_21)), R1_21, BL2, 0.75, YEARS5[3], DASH)
draw(ax, np.r_[np.arange(len(R1_22)) * 5, R1_22T_X], np.r_[R1_22, R1_22T_Y], DARK, 1.9, YEARS5[4])
ax.set_xlim(0, end)
ax.set_ylim(.4, 1)
ax.set_yticks([.4, .5, .6, .7, .8, .9, 1])
ax.set_yticklabels(['0.4', '0.5', '0.6', '0.7', '0.8', '0.9', '1'])
ax.set_xticks([0, 31, 61, 92, 123, 153, 184, 214, 245, 276, 304, 335])
ax.set_xticklabels(R_TICKS)
bottom_axis(ax)
ax.tick_params(axis='y', pad=7)
ax.tick_params(axis='x', pad=3)
legend(ax, 325, 1456)

# ---------------- ratio 2
ax = px_axes(596, 1283, 1098, 1419.7)
end = 347
draw(ax, np.linspace(0, end, len(R2_18)), R2_18, DK1, 0.75, YEARS5[0], DASH)
draw(ax, np.linspace(0, end, len(R2_19)), R2_19, DK2, 0.75, YEARS5[1], DASH)
draw(ax, np.linspace(0, end, len(R2_20)), R2_20, BL1, 0.75, YEARS5[2], DASH)
draw(ax, np.linspace(0, end, len(R2_21)), R2_21, BL2, 0.75, YEARS5[3], DASH)
draw(ax, np.linspace(0, end, len(R2_22)), R2_22, DARK, 1.9, YEARS5[4])
ax.set_xlim(0, end)
ax.set_ylim(.4, .9)
ax.set_yticks([.4, .5, .6, .7, .8, .9])
ax.set_yticklabels(['0.4', '0.5', '0.6', '0.7', '0.8', '0.9'])
ax.set_xticks([0, 30.5, 61, 92, 123, 153, 184, 214, 245, 276, 304, 335])
ax.set_xticklabels(R_TICKS)
bottom_axis(ax)
ax.tick_params(axis='y', pad=7)
ax.tick_params(axis='x', pad=3)
legend(ax, 840, 1456)

fig.savefig('out.png', dpi=100, facecolor='white')
